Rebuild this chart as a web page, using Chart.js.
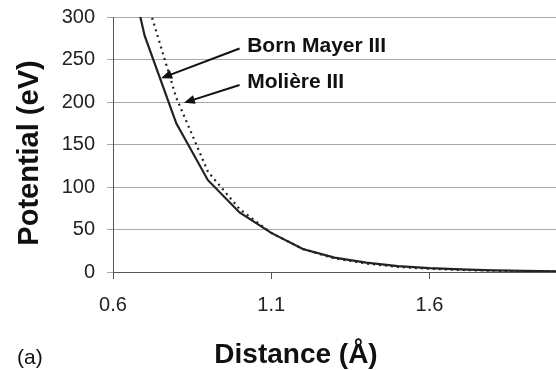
<!DOCTYPE html>
<html>
<head>
<meta charset="utf-8">
<script src="https://cdn.jsdelivr.net/npm/chart.js@4.4.1/dist/chart.umd.min.js"></script>
<style>
  html, body { margin: 0; padding: 0; background: #fff; }
  #wrap { position: relative; width: 556px; height: 370px; }
</style>
</head>
<body>
<div id="wrap"><canvas id="potChart"></canvas></div>
<script>
// distance (Å) and potential (eV)
const distances = [0.6, 0.7, 0.8, 0.9, 1.0, 1.1, 1.2, 1.3, 1.4, 1.5, 1.6, 1.7, 1.8, 1.9, 2.0, 2.1];
const bornMayer = [440, 278, 175, 108, 70, 46, 27, 17, 11, 7, 4.5, 3, 2, 1.3, 0.8, 0.5];
const moliere = [520, 328, 205, 118, 74, 46, 27, 16, 10, 6, 3.8, 2.4, 1.5, 0.9, 0.6, 0.35];
const xTicks = [0.6, 1.1, 1.6];
const yTicks = [0, 50, 100, 150, 200, 250, 300];

const FONT = "'Liberation Sans', Arial, Helvetica, sans-serif";

const toPoints = (ys) => distances.map((x, i) => ({ x, y: ys[i] }));

// labels, arrows and axis titles
const annotations = {
  id: "annotations",
  afterDraw(chart) {
    const { ctx, scales: { x, y } } = chart;
    ctx.save();
    ctx.fillStyle = "#111";
    ctx.strokeStyle = "#111";

    ctx.font = "bold 21px " + FONT;
    ctx.textAlign = "left";
    ctx.textBaseline = "alphabetic";
    ctx.fillText("Born Mayer III", x.getPixelForValue(1.024), y.getPixelForValue(259));
    ctx.fillText("Molière III", x.getPixelForValue(1.024), y.getPixelForValue(216.5));

    drawArrow(ctx, x.getPixelForValue(1.0), y.getPixelForValue(263), x.getPixelForValue(0.752), y.getPixelForValue(228));
    drawArrow(ctx, x.getPixelForValue(1.0), y.getPixelForValue(220), x.getPixelForValue(0.824), y.getPixelForValue(199));

    // axis titles
    ctx.font = "bold 28px " + FONT;
    ctx.textAlign = "center";
    ctx.textBaseline = "middle";
    ctx.fillText("Distance (Å)", 296, 355);

    ctx.save();
    ctx.font = "bold 29px " + FONT;
    ctx.translate(30, 153);
    ctx.rotate(-Math.PI / 2);
    ctx.fillText("Potential (eV)", 0, 0);
    ctx.restore();

    ctx.font = "21px " + FONT;
    ctx.textAlign = "left";
    ctx.fillText("(a)", 17, 358);
    ctx.restore();
  },
};

function drawArrow(ctx, x1, y1, x2, y2) {
  const ang = Math.atan2(y2 - y1, x2 - x1);
  const len = 11, half = 4.5;
  ctx.lineWidth = 2;
  ctx.beginPath();
  ctx.moveTo(x1, y1);
  ctx.lineTo(x2 - Math.cos(ang) * len * 0.8, y2 - Math.sin(ang) * len * 0.8);
  ctx.stroke();
  ctx.beginPath();
  ctx.moveTo(x2, y2);
  ctx.lineTo(x2 - Math.cos(ang) * len - Math.sin(ang) * half, y2 - Math.sin(ang) * len + Math.cos(ang) * half);
  ctx.lineTo(x2 - Math.cos(ang) * len + Math.sin(ang) * half, y2 - Math.sin(ang) * len - Math.cos(ang) * half);
  ctx.closePath();
  ctx.fill();
}

new Chart(document.getElementById("potChart"), {
  type: "line",
  data: {
    datasets: [
      {
        label: "Born Mayer III",
        data: toPoints(bornMayer),
        borderColor: "#222",
        borderWidth: 2.2,
        pointRadius: 0,
        tension: 0,
      },
      {
        label: "Molière III",
        data: toPoints(moliere),
        borderColor: "#222",
        borderWidth: 2.2,
        borderDash: [2, 4],
        pointRadius: 0,
        tension: 0,
      },
    ],
  },
  options: {
    responsive: true,
    maintainAspectRatio: false,
    animation: false,
    layout: { padding: { top: 17, right: 0, left: 0, bottom: 0 } },
    plugins: {
      legend: { display: false },
      tooltip: { enabled: false },
    },
    scales: {
      x: {
        type: "linear",
        min: 0.6,
        max: 2.0,
        afterBuildTicks: (scale) => { scale.ticks = xTicks.map((v) => ({ value: v })); },
        afterFit: (scale) => {
          scale.height = 98;
          scale.paddingLeft = 0;
          scale.paddingRight = 0;
        },
        border: { color: "#555", width: 1 },
        grid: { drawOnChartArea: false, drawTicks: true, tickLength: 7, color: "#555" },
        ticks: {
          color: "#222",
          padding: 14,
          maxRotation: 0,
          font: { family: FONT, size: 20 },
          callback: (v) => v.toFixed(1),
        },
      },
      y: {
        min: 0,
        max: 300,
        afterBuildTicks: (scale) => { scale.ticks = yTicks.map((v) => ({ value: v })); },
        afterFit: (scale) => {
          scale.width = 113;
          scale.paddingTop = 0;
          scale.paddingBottom = 0;
        },
        border: { color: "#555", width: 1 },
        grid: { color: "#a8a8a8", lineWidth: 1, tickLength: 6 },
        ticks: {
          color: "#222",
          padding: 12,
          font: { family: FONT, size: 20 },
        },
      },
    },
  },
  plugins: [annotations],
});
</script>
</body>
</html>
